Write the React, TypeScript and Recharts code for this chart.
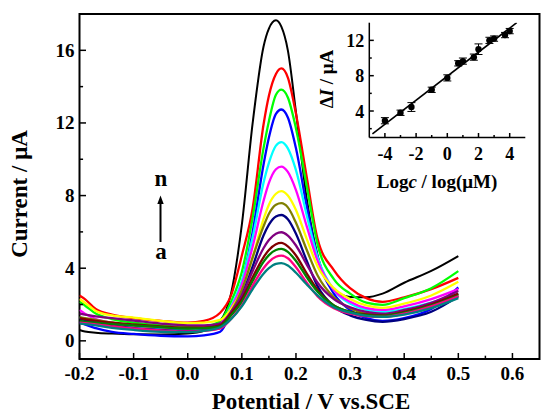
import React from 'react';
import {
  LineChart,
  ComposedChart,
  Line,
  Scatter,
  ErrorBar,
  XAxis,
  YAxis,
  ReferenceArea,
} from 'recharts';

// potential grid (V vs. SCE) shared by all DPV curves
const potential = [-0.2, -0.19, -0.17, -0.14, -0.1, -0.05, 0, 0.03, 0.06, 0.08, 0.1, 0.12, 0.14, 0.15, 0.163, 0.173, 0.185, 0.2, 0.22, 0.24, 0.27, 0.3, 0.33, 0.36, 0.4, 0.45, 0.5];

// current (µA), curve a (lowest) .. n (highest)
const curveA = [0.95, 0.92, 0.85, 0.72, 0.6, 0.5, 0.48, 0.55, 0.75, 1.2, 1.9, 2.85, 3.7, 4.0, 4.24, 4.28, 4.15, 3.75, 3.1, 2.5, 1.85, 1.55, 1.38, 1.32, 1.45, 1.8, 2.35];
const curveB = [1.0, 0.98, 0.9, 0.8, 0.68, 0.58, 0.52, 0.55, 0.68, 1.2, 1.95, 3.05, 4.0, 4.35, 4.63, 4.69, 4.55, 4.05, 3.2, 2.45, 1.8, 1.5, 1.35, 1.32, 1.5, 1.9, 2.45];
const curveC = [1.1, 1.05, 1.0, 0.92, 0.85, 0.75, 0.68, 0.7, 0.8, 1.4, 2.15, 3.3, 4.35, 4.72, 5.0, 5.06, 4.9, 4.4, 3.5, 2.7, 1.95, 1.6, 1.42, 1.38, 1.55, 1.95, 2.5];
const curveD = [1.25, 1.2, 1.1, 1.0, 0.9, 0.8, 0.72, 0.72, 0.85, 1.5, 2.3, 3.5, 4.6, 5.0, 5.32, 5.39, 5.2, 4.7, 3.7, 2.8, 1.95, 1.6, 1.45, 1.4, 1.6, 2.0, 2.6];
const curveE = [1.5, 1.45, 1.35, 1.25, 1.12, 0.95, 0.85, 0.85, 0.95, 1.6, 2.5, 3.85, 5.1, 5.55, 5.9, 5.98, 5.8, 5.25, 4.2, 3.2, 2.3, 1.85, 1.6, 1.5, 1.7, 2.1, 2.75];
const curveF = [1.2, 1.15, 1.0, 0.85, 0.7, 0.6, 0.55, 0.58, 0.7, 1.5, 2.5, 4.1, 5.8, 6.4, 6.85, 6.93, 6.7, 5.9, 4.4, 3.0, 1.9, 1.4, 1.15, 1.05, 1.2, 1.6, 2.45];
const curveG = [1.3, 1.25, 1.15, 1.0, 0.85, 0.75, 0.7, 0.72, 0.85, 1.6, 2.8, 4.6, 6.3, 7.0, 7.5, 7.58, 7.35, 6.5, 5.0, 3.6, 2.4, 1.8, 1.5, 1.4, 1.6, 2.0, 2.55];
const curveH = [2.3, 2.1, 1.65, 1.4, 1.28, 1.1, 0.98, 1.0, 1.15, 1.75, 2.8, 4.6, 6.7, 7.5, 8.1, 8.24, 8.0, 7.2, 5.6, 4.1, 2.9, 2.3, 1.95, 1.82, 2.05, 2.5, 3.25];
const curveI = [1.7, 1.5, 1.2, 1.0, 0.85, 0.75, 0.7, 0.75, 0.95, 1.8, 3.1, 5.2, 7.7, 8.7, 9.45, 9.6, 9.3, 8.3, 6.3, 4.4, 2.8, 2.15, 1.8, 1.7, 1.9, 2.3, 2.85];
const curveJ = [1.3, 1.2, 1.0, 0.85, 0.75, 0.65, 0.6, 0.65, 0.85, 1.9, 3.3, 5.7, 8.7, 9.8, 10.75, 10.94, 10.6, 9.4, 6.9, 4.6, 2.8, 2.05, 1.7, 1.6, 1.75, 2.1, 2.6];
const curveK = [1.05, 0.9, 0.7, 0.5, 0.38, 0.28, 0.25, 0.3, 0.5, 1.6, 3.2, 6.0, 9.7, 11.2, 12.5, 12.74, 12.3, 10.6, 7.4, 4.6, 2.6, 1.7, 1.25, 1.1, 1.25, 1.75, 2.94];
const curveL = [2.15, 1.95, 1.5, 1.2, 1.0, 0.85, 0.75, 0.8, 1.1, 2.15, 3.8, 6.8, 10.6, 12.1, 13.55, 13.83, 13.4, 11.7, 8.5, 5.3, 3.4, 2.6, 2.1, 1.98, 2.35, 2.9, 3.84];
const curveM = [2.5, 2.3, 1.75, 1.45, 1.25, 1.1, 1.0, 1.1, 1.55, 2.5, 4.7, 7.3, 11.9, 13.5, 14.7, 15.0, 14.5, 12.5, 9.0, 5.6, 3.9, 2.9, 2.35, 2.15, 2.4, 2.85, 3.47];
const curveN = [0.6, 0.52, 0.45, 0.4, 0.36, 0.35, 0.4, 0.55, 1.1, 2.6, 6.4, 12.0, 16.2, 17.2, 17.65, 17.3, 16.0, 12.6, 7.8, 4.7, 2.8, 2.42, 2.4, 2.6, 3.2, 3.85, 4.67];

// drawn n first so the low curves sit on top
const curves = [
  { key: 'n', values: curveN, color: '#000000', width: 2 },
  { key: 'm', values: curveM, color: '#ff0000', width: 2.3 },
  { key: 'l', values: curveL, color: '#00ff00', width: 2.3 },
  { key: 'k', values: curveK, color: '#0000ff', width: 2.3 },
  { key: 'j', values: curveJ, color: '#00ffff', width: 2.3 },
  { key: 'i', values: curveI, color: '#ff00ff', width: 2.3 },
  { key: 'h', values: curveH, color: '#ffff00', width: 2.3 },
  { key: 'g', values: curveG, color: '#808000', width: 2.3 },
  { key: 'f', values: curveF, color: '#000080', width: 2.3 },
  { key: 'e', values: curveE, color: '#800080', width: 2.3 },
  { key: 'd', values: curveD, color: '#800000', width: 2.3 },
  { key: 'c', values: curveC, color: '#008000', width: 2.3 },
  { key: 'b', values: curveB, color: '#ff0080', width: 2.3 },
  { key: 'a', values: curveA, color: '#008080', width: 2.3 },
];

const xMajor = [-0.2, -0.1, 0, 0.1, 0.2, 0.3, 0.4, 0.5, 0.6];
const xMinor = [-0.15, -0.05, 0.05, 0.15, 0.25, 0.35, 0.45, 0.55];
const yMajor = [0, 4, 8, 12, 16];
const yMinor = [2, 6, 10, 14];

// inset: calibration plot
const logC = [-4, -3, -2.3, -1, 0, 0.7, 1, 1.7, 2, 2.7, 3, 3.7, 4];
const deltaI = [2.9, 3.8, 4.45, 6.4, 7.75, 9.4, 9.65, 10.1, 11.0, 12.0, 12.2, 12.6, 13.05];
const deltaErr = [0.35, 0.3, 0.5, 0.3, 0.35, 0.3, 0.35, 0.35, 0.6, 0.35, 0.3, 0.3, 0.3];
const fitX = [-4.8, 4.45];
const fitY = [1.4, 14.0];
const insetXMajor = [-4, -2, 0, 2, 4];
const insetXMinor = [-3, -1, 1, 3];
const insetYMajor = [4, 8, 12];
const insetYMinor = [2, 6, 10];

const FONT = '"Liberation Serif", "Times New Roman", serif';

const rows = potential.map((x, i) => {
  const r: Record<string, number> = { x };
  curves.forEach((c) => {
    r[c.key] = c.values[i];
  });
  return r;
});
const insetRows = logC.map((x, i) => ({ x, y: deltaI[i], err: deltaErr[i] }));
const fitRows = fitX.map((x, i) => ({ x, y: fitY[i] }));

const isIn = (list: number[], v: number) => list.some((m) => Math.abs(m - v) < 1e-9);

function makeXTick(major: number[], len: number, fs: number, gap: number, fmt: (v: number) => string) {
  return (props: any) => {
    const { x, y, payload } = props;
    const big = isIn(major, payload.value);
    return (
      <g>
        <line x1={x} x2={x} y1={y} y2={y - (big ? len : len * 0.55)} stroke="#000" strokeWidth={1.5} />
        {big && (
          <text x={x} y={y + gap} textAnchor="middle" fontFamily={FONT} fontWeight="bold" fontSize={fs} fill="#000">
            {fmt(payload.value)}
          </text>
        )}
      </g>
    );
  };
}

function makeYTick(major: number[], len: number, fs: number) {
  return (props: any) => {
    const { x, y, payload } = props;
    const big = isIn(major, payload.value);
    return (
      <g>
        <line x1={x} x2={x + (big ? len : len * 0.55)} y1={y} y2={y} stroke="#000" strokeWidth={1.5} />
        {big && (
          <text x={x - 5} y={y + 6.5} textAnchor="end" fontFamily={FONT} fontWeight="bold" fontSize={fs} fill="#000">
            {payload.value}
          </text>
        )}
      </g>
    );
  };
}

const MainXTick = makeXTick(xMajor, 6, 19, 21, (v) => v.toFixed(1));
const MainYTick = makeYTick(yMajor, 6.5, 19);
const InsetXTick = makeXTick(insetXMajor, 4.5, 18, 22, (v) => String(v));
const InsetYTick = makeYTick(insetYMajor, 4.5, 18);

function Dot(props: any) {
  return <circle cx={props.cx} cy={props.cy} r={3.2} fill="#000" />;
}

export default function App() {
  return (
    <div style={{ position: 'absolute', left: 0, top: 0, width: 541, height: 417, background: '#fff' }}>
      <LineChart width={541} height={417} data={rows} margin={{ top: 14, right: 1.5, bottom: 0, left: 19.5 }}>
        <XAxis
          dataKey="x"
          type="number"
          domain={[-0.2, 0.65]}
          ticks={[...xMajor, ...xMinor]}
          interval={0}
          tick={MainXTick}
          tickLine={false}
          tickSize={0}
          tickMargin={0}
          axisLine={false}
          height={58}
          allowDataOverflow
        />
        <YAxis
          type="number"
          domain={[-1, 18]}
          ticks={[...yMajor, ...yMinor]}
          interval={0}
          tick={MainYTick}
          tickLine={false}
          tickSize={0}
          tickMargin={0}
          axisLine={false}
          width={60}
          allowDataOverflow
        />
        <ReferenceArea x1={-0.2} x2={0.65} y1={-1} y2={18} fill="none" stroke="#000" strokeWidth={2} ifOverflow="visible" />
        {curves.map((c) => (
          <Line
            key={c.key}
            dataKey={c.key}
            type="monotone"
            stroke={c.color}
            strokeWidth={c.width}
            dot={false}
            activeDot={false}
            isAnimationActive={false}
          />
        ))}
      </LineChart>

      <div style={{ position: 'absolute', left: 300, top: 0 }}>
        <ComposedChart width={241} height={200} margin={{ top: 22.7, right: 15.7, bottom: 0, left: 19.3 }}>
          <XAxis
            dataKey="x"
            type="number"
            domain={[-5, 5]}
            ticks={[...insetXMajor, ...insetXMinor]}
            interval={0}
            tick={InsetXTick}
            tickLine={false}
            tickSize={0}
            tickMargin={0}
            axisLine={{ stroke: '#000', strokeWidth: 1.5 }}
            height={62.5}
            allowDataOverflow
          />
          <YAxis
            type="number"
            domain={[1, 14]}
            ticks={[...insetYMajor, ...insetYMinor]}
            interval={0}
            tick={InsetYTick}
            tickLine={false}
            tickSize={0}
            tickMargin={0}
            axisLine={{ stroke: '#000', strokeWidth: 1.5 }}
            width={50}
            allowDataOverflow
          />
          <Line data={fitRows} dataKey="y" type="linear" stroke="#000" strokeWidth={1.6} dot={false} activeDot={false} isAnimationActive={false} />
          <Scatter data={insetRows} dataKey="y" fill="#000" shape={Dot} isAnimationActive={false}>
            <ErrorBar dataKey="err" direction="y" width={4} stroke="#000" strokeWidth={1} isAnimationActive={false} />
          </Scatter>
        </ComposedChart>
      </div>

      <svg width={541} height={417} style={{ position: 'absolute', left: 0, top: 0, pointerEvents: 'none' }}>
        <g fontFamily={FONT} fontWeight="bold" fill="#000">
          <text transform="translate(27,194) rotate(-90)" textAnchor="middle" fontSize={23}>
            Current / μA
          </text>
          <text x={311} y={409} textAnchor="middle" fontSize={23}>
            Potential / V vs.SCE
          </text>
          <text x={161} y={185.5} textAnchor="middle" fontSize={23}>
            n
          </text>
          <text x={161} y={259} textAnchor="middle" fontSize={23}>
            a
          </text>
          <text transform="translate(333,79) rotate(-90)" textAnchor="middle" fontSize={19}>
            Δ<tspan fontStyle="italic">I</tspan> / μA
          </text>
          <text x={437} y={188} textAnchor="middle" fontSize={19}>
            Log<tspan fontStyle="italic">c</tspan> / log(μM)
          </text>
        </g>
        <line x1={160.5} x2={160.5} y1={242} y2={202} stroke="#000" strokeWidth={2} />
        <polygon points="160.5,195.5 157.3,204 163.7,204" fill="#000" />
      </svg>
    </div>
  );
}
